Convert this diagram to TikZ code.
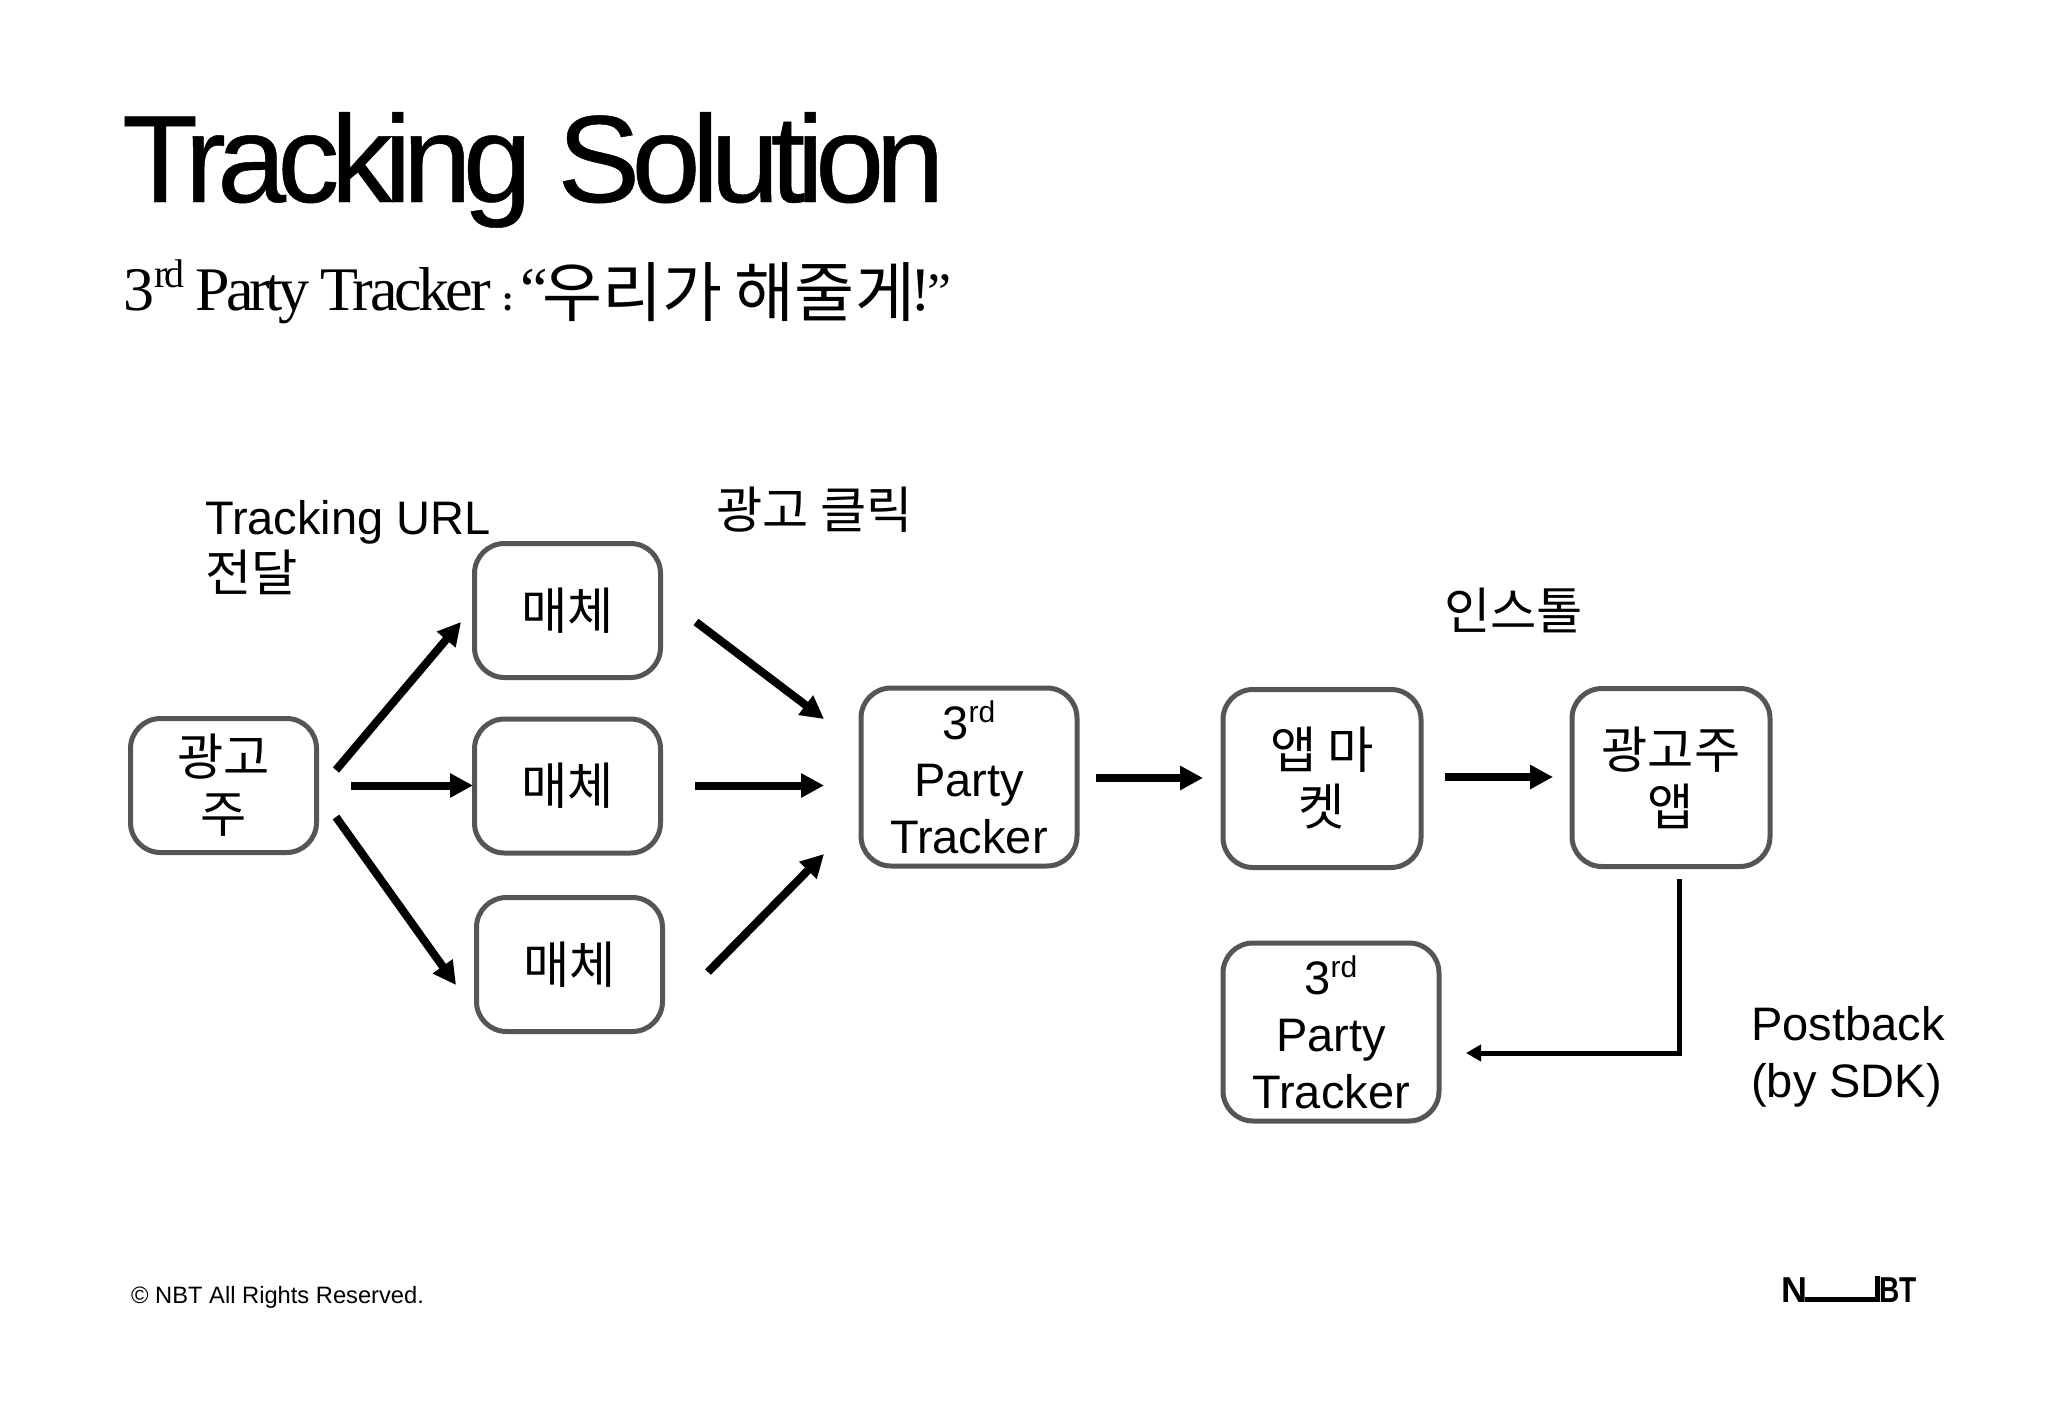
\documentclass[tikz,border=0pt]{standalone}
\usepackage{fontspec}
\setmainfont{Liberation Sans}
\newfontfamily\krfont[Scale=1.07]{Noto Sans CJK KR}
\newfontfamily\titlefont[LetterSpace=-7.05,FakeBold=0.4]{Liberation Sans}
\newfontfamily\subfont[LetterSpace=-7]{Liberation Serif}
\newfontfamily\subwide[LetterSpace=-5.5]{Liberation Serif}
\newfontfamily\logofont{Liberation Sans}
\newfontfamily\logonarrow[FakeStretch=0.78]{Liberation Sans}
\usetikzlibrary{arrows.meta}
\definecolor{boxgray}{HTML}{555555}
\newcommand{\lbl}{\fontsize{47}{57}\selectfont}
\tikzset{
  x=1pt,y=-1pt,
  boxnode/.style={draw=boxgray,line width=5pt,rounded corners=30pt,fill=white,align=center,font=\lbl,inner sep=0pt,outer sep=0pt,anchor=north west},
  smallbox/.style={boxnode,minimum width=186pt,minimum height=134pt},
  bigbox/.style={boxnode,minimum width=216pt,minimum height=178pt},
  midbox/.style={boxnode,minimum width=198pt,minimum height=178pt},
  krbox/.style={font=\lbl\krfont},
  txt/.style={font=\lbl,align=left,inner sep=0pt},
  arrowline/.style={line width=8pt,-{Triangle[length=23pt,width=23pt]},black},
  shadowline/.style={line width=8pt,black!40,opacity=.45,shift={(2,4)},-{Triangle[length=23pt,width=23pt]}},
  thinarrow/.style={line width=5pt,-{Triangle[length=15pt,width=16pt]},black}
}
\newcommand{\arr}[2]{\draw[shadowline] (#1) -- (#2); \draw[arrowline] (#1) -- (#2);}
\newcommand{\tracker}{3\raisebox{.36em}{\fontsize{30}{30}\selectfont rd}\\Party\\Tracker}
\begin{document}
\begin{tikzpicture}
\useasboundingbox (0,0) rectangle (2048,1418);
\fill[white] (0,0) rectangle (2048,1418);
\node[anchor=base west,inner sep=0pt,font=\titlefont\fontsize{124}{124}\selectfont] (title) at (122,202) {Tracking Solution};
\node[anchor=base west,inner sep=0pt,font=\fontsize{62}{62}\selectfont] (sub) at (123,310) {\subfont 3\raisebox{.36em}{\fontsize{40}{40}\selectfont rd}\hspace{0pt} Party {\subwide Tracker} {\fontsize{36}{36}\selectfont\bfseries :}\hspace{-8pt} “\hspace{-6pt}\raisebox{-6pt}{\krfont\fontsize{61}{61}\selectfont 우리가\hspace{-2pt} 해줄게}\hspace{-5pt}!\hspace{-3pt}{\fontsize{54}{54}\selectfont ”}};

\node[smallbox,krbox] (adv) at (130.5,718.5) {광고\\주};
\node[smallbox,krbox] (m1) at (474.5,543.5) {매체};
\node[smallbox,krbox] (m2) at (474.5,719) {매체};
\node[smallbox,krbox] (m3) at (476.5,897.5) {매체};
\node[bigbox] (t1) at (861,688) {\tracker};
\node[midbox,krbox] (mk) at (1223,689.5) {앱 마\\켓};
\node[midbox,krbox] (app) at (1572,688.5) {광고주\\앱};
\node[bigbox] (t2) at (1223,943) {\tracker};

\node[txt,anchor=north west] (l1) at (205,500) {Tracking URL\\{\krfont 전달}};
\node[txt,anchor=base west] (l2) at (716,528) {\krfont 광고 클릭};
\node[txt,anchor=base west] (l3) at (1444,629) {\krfont 인스톨};
\node[txt,anchor=north west] (l4) at (1751,1006) {Postback\\(by SDK)};
\node[anchor=base west,inner sep=0pt,font=\fontsize{23.7}{24}\selectfont] (foot) at (131,1303) {© NBT All Rights Reserved.};

\node[anchor=base west,inner sep=0pt,font=\logofont\bfseries\fontsize{36}{36}\selectfont] (ln) at (1781,1302) {N};
\node[anchor=base east,inner sep=0pt,font=\logonarrow\bfseries\fontsize{36}{36}\selectfont] (lb) at (1917,1302) {BT};
\coordinate (ln0) at (1805,1299.5);
\coordinate (lc) at (1877,1299.5);
\coordinate (lb0) at (1877,1276);
\draw[line width=5pt] (ln0) -- (lc) -- (lb0);

\coordinate (a1s) at (336,770); \coordinate (a1e) at (461,622);
\coordinate (a2s) at (351,785.5); \coordinate (a2e) at (473,785.5);
\coordinate (a3s) at (336,817); \coordinate (a3e) at (456,985);
\coordinate (b1s) at (696,622); \coordinate (b1e) at (824,719);
\coordinate (b2s) at (695,785.5); \coordinate (b2e) at (824,785.5);
\coordinate (b3s) at (708,972); \coordinate (b3e) at (824,854);
\coordinate (c1s) at (1096,778); \coordinate (c1e) at (1203,778);
\coordinate (c2s) at (1445,777); \coordinate (c2e) at (1553,777);
\coordinate (ps) at (1679,879); \coordinate (pc) at (1679,1053); \coordinate (pe) at (1466,1053);
\arr{a1s}{a1e}\arr{a2s}{a2e}\arr{a3s}{a3e}
\arr{b1s}{b1e}\arr{b2s}{b2e}\arr{b3s}{b3e}
\arr{c1s}{c1e}\arr{c2s}{c2e}
\draw[thinarrow,black!40,opacity=.45,shift={(0,4)}] (pc) -- (pe);
\draw[thinarrow] (ps) -- (pc) -- (pe);
\end{tikzpicture}
\end{document}
